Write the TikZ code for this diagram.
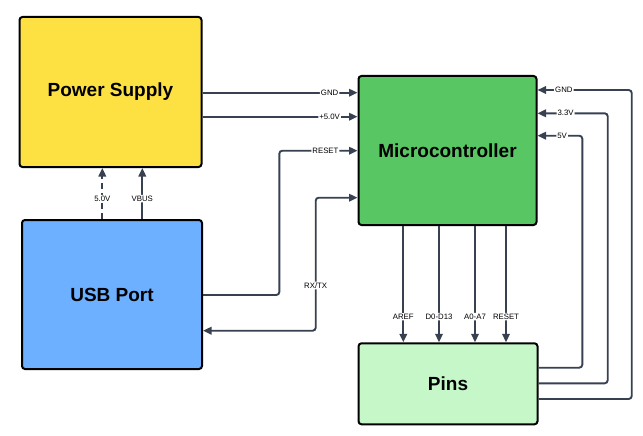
\documentclass[tikz,border=0pt]{standalone}
\usepackage{fontspec}
\setmainfont{Liberation Sans}
\usetikzlibrary{arrows.meta}
\definecolor{psyellow}{RGB}{253,225,67}
\definecolor{usbblue}{RGB}{108,176,255}
\definecolor{mcugreen}{RGB}{88,198,99}
\definecolor{pinsgreen}{RGB}{197,247,201}
\definecolor{wirecol}{RGB}{55,65,81}
\begin{document}
\begin{tikzpicture}[x=1pt, y=-1pt,
    block/.style={draw=black, line width=2pt, rounded corners=3pt, text=black,
      font=\bfseries\fontsize{19}{22}\selectfont},
    wire/.style={draw=wirecol, line width=1.9pt, rounded corners=3pt,
      -{Triangle[length=8.5pt,width=7.5pt]}},
    lbl/.style={fill=white, inner sep=1pt, text=black,
      font=\fontsize{7.8}{9}\selectfont}]
  \useasboundingbox (0,0) rectangle (643,436);
  % blocks
  \node[block, fill=psyellow, minimum width=182pt, minimum height=150pt] (ps) at (110.5,92) {Power Supply};
  \node[block, fill=usbblue, minimum width=180pt, minimum height=149pt] (usb) at (112,294.5) {USB Port};
  \node[block, fill=mcugreen, minimum width=178pt, minimum height=149pt] (mcu) at (447.5,150.5) {Microcontroller};
  \node[block, fill=pinsgreen, minimum width=179pt, minimum height=81pt] (pins) at (448,383.8) {Pins};
  % power supply to microcontroller
  \draw[wire] (ps.east |- 0,92.7) -- node[lbl, pos=0.82] {GND} (mcu.west |- 0,92.7);
  \draw[wire] (ps.east |- 0,116.7) -- node[lbl, pos=0.82] {+5.0V} (mcu.west |- 0,116.7);
  % usb port to power supply
  \draw[wire, dash pattern=on 6pt off 4pt] (usb.north -| 102.3,0) -- node[lbl, pos=0.4] {5.0V} (ps.south -| 102.3,0);
  \draw[wire] (usb.north -| 142.3,0) -- node[lbl, pos=0.4] {VBUS} (ps.south -| 142.3,0);
  % usb port to microcontroller
  \draw[wire] (usb.east |- 0,295) -- (279.3,295) -- (279.3,150.7) -- node[lbl, pos=0.59] {RESET} (mcu.west |- 0,150.7);
  \draw[wire, {Triangle[length=8.5pt,width=7.5pt]}-{Triangle[length=8.5pt,width=7.5pt]}] (usb.east |- 0,330.7) -- (315.7,330.7) -- node[lbl, pos=0.34] {RX/TX} (315.7,197.7) -- (mcu.west |- 0,197.7);
  % microcontroller to pins
  \foreach \x/\t in {403.3/AREF, 439/D0-D13, 475/A0-A7, 506/RESET}
    \draw[wire] (mcu.south -| \x,0) -- node[lbl, pos=0.78] {\t} (pins.north -| \x,0);
  % pins back to microcontroller
  \foreach \ya/\xb/\yb/\t/\p in {367.7/582.3/135.7/5V/0.45, 383.3/607.7/113.3/3.3V/0.6, 399/631.7/90/GND/0.72}
    \draw[wire] (pins.east |- 0,\ya) -- (\xb,\ya) -- (\xb,\yb) -- node[lbl, pos=\p] {\t} (mcu.east |- 0,\yb);
\end{tikzpicture}
\end{document}
